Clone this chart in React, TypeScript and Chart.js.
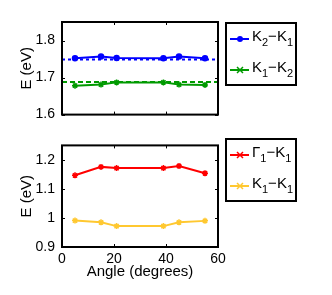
import React, { useEffect, useRef } from "react";
import { Chart, registerables } from "chart.js";

Chart.register(...registerables);

// ---------- data ----------
const angles = [5, 15, 21, 39, 45, 55];

const k2k1 = [1.752, 1.757, 1.753, 1.752, 1.757, 1.752];
const k1k2 = [1.678, 1.681, 1.687, 1.687, 1.681, 1.68];
const k2k1Ref = 1.749;
const k1k2Ref = 1.688;

const gammaK1 = [1.147, 1.176, 1.172, 1.172, 1.179, 1.154];
const k1k1 = [0.991, 0.985, 0.972, 0.972, 0.985, 0.99];

const xTicks = [0, 20, 40, 60];
const xTickLabels = ["0", "20", "40", "60"];
const topYTicks = [1.6, 1.7, 1.8];
const topYTickLabels = ["1.6", "1.7", "1.8"];
const botYTicks = [0.9, 1.0, 1.1, 1.2];
const botYTickLabels = ["0.9", "1", "1.1", "1.2"];

const topLegend = ["K_2−K_1", "K_1−K_2"];
const botLegend = ["Γ_1−K_1", "K_1−K_1"];

const BLUE = "#0000ff";
const GREEN = "#009a00";
const RED = "#ff0000";
const YELLOW = "#ffc830";

const FONT = "'Liberation Sans', Arial, Helvetica, sans-serif";

type LegendItem = { label: string; color: string; marker: "dot" | "star" };

function drawRichText(ctx: CanvasRenderingContext2D, text: string, x: number, y: number) {
  // "_" marks that the next character is a subscript
  let cx = x;
  for (let i = 0; i < text.length; i++) {
    const ch = text[i];
    if (ch === "_" && i + 1 < text.length) {
      const s = text[i + 1];
      ctx.font = `11px ${FONT}`;
      ctx.fillText(s, cx, y + 5);
      cx += ctx.measureText(s).width;
      i++;
    } else {
      ctx.font = `15px ${FONT}`;
      ctx.fillText(ch, cx, y);
      cx += ctx.measureText(ch).width;
    }
  }
}

function framePlugin(legend: LegendItem[], box: { x: number; y: number; w: number; h: number }) {
  return {
    id: "frame",
    afterDraw(chart: any) {
      const ctx: CanvasRenderingContext2D = chart.ctx;
      const a = chart.chartArea;
      const xs = chart.scales.x;
      const ys = chart.scales.y;
      ctx.save();
      // inward ticks
      ctx.strokeStyle = "#000";
      ctx.lineWidth = 1;
      const tl = 3;
      xs.ticks.forEach((t: any) => {
        const px = Math.round(xs.getPixelForValue(t.value)) + 0.5;
        ctx.beginPath();
        ctx.moveTo(px, a.bottom);
        ctx.lineTo(px, a.bottom - tl);
        ctx.moveTo(px, a.top);
        ctx.lineTo(px, a.top + tl);
        ctx.stroke();
      });
      ys.ticks.forEach((t: any) => {
        const py = Math.round(ys.getPixelForValue(t.value)) + 0.5;
        ctx.beginPath();
        ctx.moveTo(a.left, py);
        ctx.lineTo(a.left + tl, py);
        ctx.moveTo(a.right, py);
        ctx.lineTo(a.right - tl, py);
        ctx.stroke();
      });
      // box
      ctx.lineWidth = 2;
      ctx.strokeRect(a.left, a.top, a.right - a.left, a.bottom - a.top);
      // legend
      ctx.strokeRect(box.x, box.y, box.w, box.h);
      legend.forEach((it, i) => {
        const cy = box.y + 16 + i * 31;
        ctx.strokeStyle = it.color;
        ctx.fillStyle = it.color;
        ctx.lineWidth = 2;
        ctx.beginPath();
        ctx.moveTo(box.x + 4, cy);
        ctx.lineTo(box.x + 23, cy);
        ctx.stroke();
        const mx = box.x + 14;
        if (it.marker === "dot") {
          ctx.beginPath();
          ctx.arc(mx, cy, 3, 0, Math.PI * 2);
          ctx.fill();
        } else {
          ctx.lineWidth = 1.5;
          ctx.beginPath();
          ctx.moveTo(mx - 3, cy - 3);
          ctx.lineTo(mx + 3, cy + 3);
          ctx.moveTo(mx - 3, cy + 3);
          ctx.lineTo(mx + 3, cy - 3);
          ctx.moveTo(mx - 3, cy);
          ctx.lineTo(mx + 3, cy);
          ctx.stroke();
        }
        ctx.fillStyle = "#000";
        ctx.textBaseline = "alphabetic";
        ctx.textAlign = "left";
        drawRichText(ctx, it.label, box.x + 26, cy + 2);
      });
      ctx.restore();
    },
  };
}

function series(vals: number[]) {
  return angles.map((a, i) => ({ x: a, y: vals[i] }));
}

function makeChart(
  canvas: HTMLCanvasElement,
  datasets: any[],
  yMin: number,
  yMax: number,
  yTicks: number[],
  yLabels: string[],
  showX: boolean,
  padding: any,
  xHeight: number,
  legend: LegendItem[],
  box: any
) {
  return new Chart(canvas, {
    type: "line",
    data: { datasets },
    options: {
      animation: false,
      responsive: false,
      maintainAspectRatio: false,
      layout: { padding },
      plugins: { legend: { display: false }, tooltip: { enabled: false } },
      scales: {
        x: {
          type: "linear",
          min: 0,
          max: 60,
          display: true,
          afterBuildTicks: (s: any) => {
            s.ticks = xTicks.map((v) => ({ value: v }));
          },
          afterFit: (s: any) => {
            s.height = xHeight;
          },
          grid: { display: false, drawTicks: false },
          border: { display: false },
          ticks: {
            display: showX,
            padding: 4,
            color: "#000",
            font: { family: FONT, size: 14 },
            maxRotation: 0,
            callback: (v: any) => xTickLabels[xTicks.indexOf(v)] ?? "",
          },
          title: {
            display: showX,
            text: "Angle (degrees)",
            color: "#000",
            font: { family: FONT, size: 15 },
            padding: { top: 0, bottom: 14 },
          },
        },
        y: {
          type: "linear",
          min: yMin,
          max: yMax,
          afterBuildTicks: (s: any) => {
            s.ticks = yTicks.map((v) => ({ value: v }));
          },
          afterFit: (s: any) => {
            s.width = 62;
          },
          grid: { display: false, drawTicks: false },
          border: { display: false },
          ticks: {
            padding: 7,
            color: "#000",
            font: { family: FONT, size: 14 },
            callback: (v: any) => {
              const i = yTicks.findIndex((t) => Math.abs(t - v) < 1e-9);
              return i >= 0 ? yLabels[i] : "";
            },
          },
          title: {
            display: true,
            text: "E (eV)",
            color: "#000",
            font: { family: FONT, size: 15 },
            padding: { top: 18, bottom: 0 },
          },
        },
      },
    },
    plugins: [framePlugin(legend, box)],
  } as any);
}

function lineDs(vals: number[], color: string, style: string, radius: number) {
  return {
    data: series(vals),
    borderColor: color,
    backgroundColor: color,
    borderWidth: 2,
    pointStyle: style,
    pointRadius: radius,
    pointBorderWidth: 1.5,
    pointBorderColor: color,
    pointBackgroundColor: color,
    tension: 0,
  };
}

function refDs(v: number, color: string, dash: number[]) {
  return {
    data: [
      { x: 0, y: v },
      { x: 60, y: v },
    ],
    borderColor: color,
    borderWidth: 2,
    borderDash: dash,
    pointRadius: 0,
  };
}

export default function App() {
  const topRef = useRef<HTMLCanvasElement>(null);
  const botRef = useRef<HTMLCanvasElement>(null);

  useEffect(() => {
    const c1 = makeChart(
      topRef.current!,
      [
        refDs(k2k1Ref, BLUE, [3, 3]),
        refDs(k1k2Ref, GREEN, [5, 3]),
        lineDs(k2k1, BLUE, "circle", 2.5),
        lineDs(k1k2, GREEN, "star", 3),
      ],
      1.6,
      1.85,
      topYTicks,
      topYTickLabels,
      false,
      { top: 22, right: 114, bottom: 7, left: 0 },
      0,
      [
        { label: topLegend[0], color: BLUE, marker: "dot" },
        { label: topLegend[1], color: GREEN, marker: "star" },
      ],
      { x: 226, y: 23, w: 70, h: 62 }
    );
    const c2 = makeChart(
      botRef.current!,
      [lineDs(gammaK1, RED, "star", 3), lineDs(k1k1, YELLOW, "star", 3)],
      0.9,
      1.25,
      botYTicks,
      botYTickLabels,
      true,
      { top: 7, right: 114, bottom: 0, left: 0 },
      48,
      [
        { label: botLegend[0], color: RED, marker: "star" },
        { label: botLegend[1], color: YELLOW, marker: "star" },
      ],
      { x: 226, y: 9, w: 70, h: 62 }
    );
    return () => {
      c1.destroy();
      c2.destroy();
    };
  }, []);

  return (
    <div style={{ position: "fixed", left: 0, top: 0, width: 332, height: 295, background: "#fff" }}>
      <canvas ref={topRef} width={332} height={130} style={{ position: "absolute", left: 0, top: 0, width: 332, height: 130 }} />
      <canvas ref={botRef} width={332} height={165} style={{ position: "absolute", left: 0, top: 130, width: 332, height: 165 }} />
    </div>
  );
}
